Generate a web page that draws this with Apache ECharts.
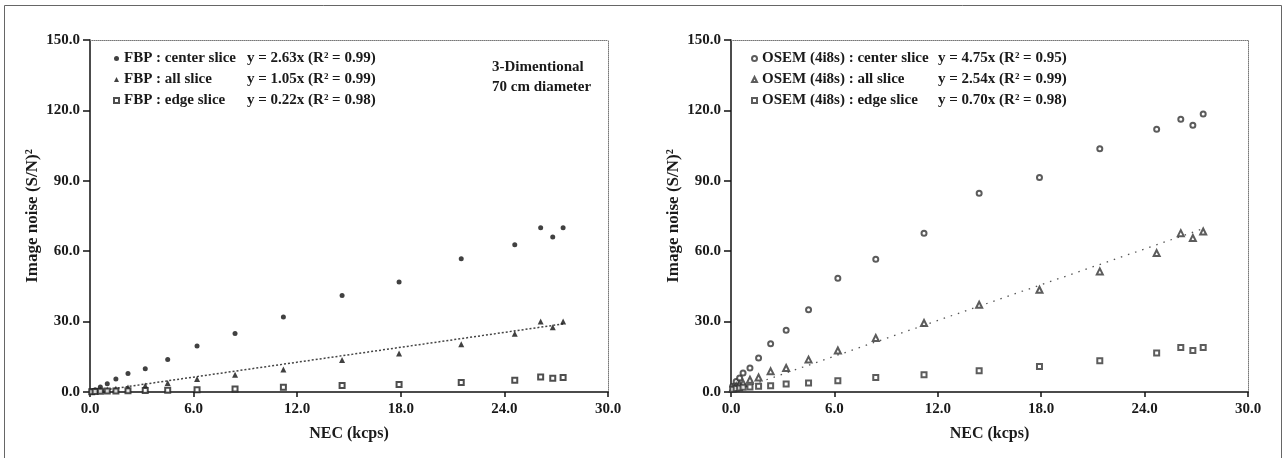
<!DOCTYPE html>
<html>
<head>
<meta charset="utf-8">
<script src="https://cdn.jsdelivr.net/npm/echarts@6/dist/echarts.min.js"></script>
<style>
html,body{margin:0;padding:0;background:#fff;}
#c{width:1282px;height:458px;}
</style>
</head>
<body>
<div id="c"></div>
<script>
// ---- data ----
const xTicks = [0, 6, 12, 18, 24, 30];
const yTicks = [0, 30, 60, 90, 120, 150];

const necFBP = [0.1, 0.3, 0.6, 1.0, 1.5, 2.2, 3.2, 4.5, 6.2, 8.4, 11.2, 14.6, 17.9, 21.5, 24.6, 26.1, 26.8, 27.4];
const fbpCenter = [0.4, 1.0, 2.1, 3.5, 5.5, 7.9, 9.9, 13.8, 19.6, 24.9, 32.0, 41.1, 46.9, 56.8, 62.7, 70.0, 66.0, 70.0];
const fbpAll = [0.2, 0.4, 0.8, 1.0, 1.4, 1.9, 2.8, 3.8, 5.5, 7.4, 9.6, 13.6, 16.4, 20.3, 24.8, 30.0, 27.6, 30.0];
const fbpEdge = [0.1, 0.2, 0.3, 0.4, 0.4, 0.5, 0.6, 0.7, 1.0, 1.3, 2.0, 2.8, 3.2, 4.1, 5.0, 6.4, 5.9, 6.2];
const fbpFit = [[0, 0], [27.4, 29.0]];

const necOSEM = [0.1, 0.3, 0.5, 0.7, 1.1, 1.6, 2.3, 3.2, 4.5, 6.2, 8.4, 11.2, 14.4, 17.9, 21.4, 24.7, 26.1, 26.8, 27.4];
const osemCenter = [2.5, 4.5, 6.0, 8.1, 10.2, 14.5, 20.6, 26.3, 35.0, 48.5, 56.6, 67.7, 84.7, 91.4, 103.7, 112.0, 116.2, 113.7, 118.5];
const osemAll = [1.5, 2.5, 3.2, 3.8, 5.2, 6.2, 8.8, 10.2, 13.8, 17.7, 23.0, 29.4, 37.2, 43.6, 51.4, 59.2, 67.7, 65.6, 68.4];
const osemEdge = [1.2, 1.5, 1.7, 2.0, 2.1, 2.4, 2.7, 3.4, 3.8, 4.8, 6.2, 7.4, 9.1, 10.9, 13.3, 16.6, 19.0, 17.7, 19.0];
const osemFit = [[0, 0], [27.4, 69.6]];

const fbpNames = ['FBP : center slice', 'FBP : all slice', 'FBP : edge slice'];
const fbpEqs = ['y = 2.63x (R² = 0.99)', 'y = 1.05x (R² = 0.99)', 'y = 0.22x (R² = 0.98)'];
const osemNames = ['OSEM (4i8s) : center slice', 'OSEM (4i8s) : all slice', 'OSEM (4i8s) : edge slice'];
const osemEqs = ['y = 4.75x (R² = 0.95)', 'y = 2.54x (R² = 0.99)', 'y = 0.70x (R² = 0.98)'];
const xTitle = 'NEC (kcps)';
const yTitle = 'Image noise (S/N)²';
const note = '3-Dimentional\n70 cm diameter';

// ---- chart ----
const FONT = 'Liberation Serif';
const INK = '#1a1a1a';
const pair = (xs, ys) => xs.map((x, i) => [x, ys[i]]);

function xAxisFor(g) {
  return [{
    type: 'value', gridIndex: g, min: xTicks[0], max: xTicks[xTicks.length - 1], interval: xTicks[1] - xTicks[0],
    name: xTitle, nameLocation: 'middle', nameGap: 34,
    nameTextStyle: {fontFamily: FONT, fontWeight: 'bold', fontSize: 16, color: INK},
    axisLine: {show: true, onZero: false, lineStyle: {color: '#111', width: 1.5}},
    axisTick: {show: true, inside: false, length: 5, lineStyle: {color: '#111', width: 1.5}},
    axisLabel: {margin: 10, fontFamily: FONT, fontWeight: 'bold', fontSize: 15, color: INK, formatter: v => v.toFixed(1)},
    splitLine: {show: false}
  }, {
    type: 'value', gridIndex: g, position: 'top', min: xTicks[0], max: xTicks[xTicks.length - 1],
    axisLine: {show: true, onZero: false, lineStyle: {color: '#777', width: 1, type: 'dotted'}},
    axisTick: {show: false}, axisLabel: {show: false}, splitLine: {show: false}
  }];
}
function yAxisFor(g) {
  return [{
    type: 'value', gridIndex: g, min: yTicks[0], max: yTicks[yTicks.length - 1], interval: yTicks[1] - yTicks[0],
    name: yTitle, nameLocation: 'middle', nameGap: 49, nameRotate: 90,
    nameTextStyle: {fontFamily: FONT, fontWeight: 'bold', fontSize: 17, color: INK},
    axisLine: {show: true, onZero: false, lineStyle: {color: '#111', width: 1.5}},
    axisTick: {show: true, inside: false, length: 7, lineStyle: {color: '#111', width: 1.5}},
    axisLabel: {margin: 10, fontFamily: FONT, fontWeight: 'bold', fontSize: 15, color: INK, formatter: v => v.toFixed(1)},
    splitLine: {show: false}
  }, {
    type: 'value', gridIndex: g, position: 'right', min: yTicks[0], max: yTicks[yTicks.length - 1],
    axisLine: {show: true, onZero: false, lineStyle: {color: '#777', width: 1, type: 'dotted'}},
    axisTick: {show: false}, axisLabel: {show: false}, splitLine: {show: false}
  }];
}

function legendFor(names, eqs, left, eqWidth) {
  return {
    data: names, orient: 'vertical', left: left, top: 46, itemGap: 6,
    itemWidth: 5, itemHeight: 5, selectedMode: false,
    formatter: name => '{a|' + name + '}{b|' + eqs[names.indexOf(name)] + '}',
    textStyle: {
      fontFamily: FONT, fontWeight: 'bold', fontSize: 15, color: INK,
      rich: {
        a: {width: eqWidth, fontFamily: FONT, fontWeight: 'bold', fontSize: 15, color: INK},
        b: {fontFamily: FONT, fontWeight: 'bold', fontSize: 15, color: INK}
      }
    }
  };
}

const scatter = (name, data, xi, yi, symbol, size, color, bw) => ({
  name, type: 'scatter', xAxisIndex: xi, yAxisIndex: yi, data, symbol, symbolSize: size,
  itemStyle: {color: color, borderColor: color, borderWidth: bw}, silent: true, z: 3
});
const fitLine = (data, xi, yi, color, width, dash) => ({
  type: 'line', xAxisIndex: xi, yAxisIndex: yi, data, symbol: 'none', silent: true,
  lineStyle: {color: color, width: width, type: dash}, z: 2
});

const chart = echarts.init(document.getElementById('c'), null, {renderer: 'canvas'});
chart.setOption({
  backgroundColor: '#fff',
  animation: false,
  grid: [
    {left: 90, right: 674, top: 40, bottom: 66},
    {left: 731, right: 34, top: 40, bottom: 66}
  ],
  xAxis: [...xAxisFor(0), ...xAxisFor(1)],
  yAxis: [...yAxisFor(0), ...yAxisFor(1)],
  legend: [legendFor(fbpNames, fbpEqs, 108, 123), legendFor(osemNames, osemEqs, 746, 176)],
  title: {
    text: note, left: 487, top: 52,
    textStyle: {fontFamily: FONT, fontWeight: 'bold', fontSize: 15, color: INK, lineHeight: 20}
  },
  graphic: [{
    type: 'rect', left: 2, top: 3, shape: {width: 1277, height: 460},
    style: {fill: 'none', stroke: '#666', lineWidth: 1}, silent: true
  }],
  series: [
    fitLine(fbpFit, 0, 0, '#444', 1.5, [2, 2]),
    scatter(fbpNames[0], pair(necFBP, fbpCenter), 0, 0, 'circle', 5, '#111', 0),
    scatter(fbpNames[1], pair(necFBP, fbpAll), 0, 0, 'triangle', 6, '#111', 0),
    scatter(fbpNames[2], pair(necFBP, fbpEdge), 0, 0, 'emptyRect', 5, '#222', 1.5),
    fitLine(osemFit, 2, 2, '#555', 1.3, [1.5, 6]),
    scatter(osemNames[0], pair(necOSEM, osemCenter), 2, 2, 'emptyCircle', 5, '#333', 1.2),
    scatter(osemNames[1], pair(necOSEM, osemAll), 2, 2, 'emptyTriangle', 6, '#333', 1.2),
    scatter(osemNames[2], pair(necOSEM, osemEdge), 2, 2, 'emptyRect', 5, '#333', 1.2)
  ]
});
</script>
</body>
</html>
